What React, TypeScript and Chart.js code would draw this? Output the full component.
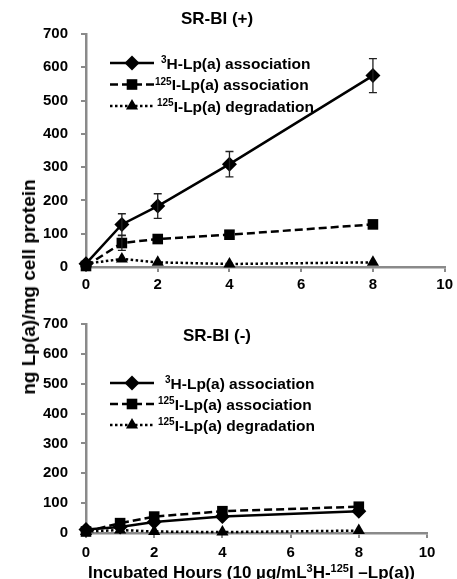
import React, { useEffect, useRef } from 'react';
import { Chart, registerables } from 'chart.js';

Chart.register(...registerables);

// ---------------- data ----------------
const hours = [0, 1, 2, 4, 8];
const xMin = 0;
const xMax = 10;
const xStep = 2;
const yMin = 0;
const yMax = 700;
const yStep = 100;

// SR-BI (+)
const plusH3Assoc = [10, 128, 183, 309, 575];
const plusH3AssocErr = [0, 32, 37, 38, 51];
const plusI125Assoc = [3, 72, 84, 97, 128];
const plusI125AssocErr = [0, 22, 0, 0, 0];
const plusI125Degr = [10, 24, 14, 9, 14];

// SR-BI (-)
const minusH3Assoc = [12, 20, 37, 55, 73];
const minusI125Assoc = [5, 33, 55, 73, 88];
const minusI125Degr = [5, 10, 5, 3, 8];

const titlePlus = 'SR-BI (+)';
const titleMinus = 'SR-BI (-)';
const yAxisTitle = 'ng Lp(a)/mg cell protein';

type Seg = { t: string; sup?: boolean };
const legendH3: Seg[] = [{ t: '3', sup: true }, { t: 'H-Lp(a) association' }];
const legendI125Assoc: Seg[] = [{ t: '125', sup: true }, { t: 'I-Lp(a) association' }];
const legendI125Degr: Seg[] = [{ t: '125', sup: true }, { t: 'I-Lp(a) degradation' }];
const xAxisTitle: Seg[] = [
  { t: 'Incubated Hours (10 µg/mL' },
  { t: '3', sup: true },
  { t: 'H-' },
  { t: '125', sup: true },
  { t: 'I –Lp(a))' },
];

const FONT = '"Liberation Sans", Arial, Helvetica, sans-serif';
const AXIS_GREY = '#8a8a8a';

// ---------------- drawing helpers ----------------
function richWidth(ctx: CanvasRenderingContext2D, segs: Seg[], size: number) {
  let w = 0;
  for (const s of segs) {
    ctx.font = `bold ${s.sup ? Math.round(size * 0.66) : size}px ${FONT}`;
    w += ctx.measureText(s.t).width;
  }
  return w;
}

function drawRich(
  ctx: CanvasRenderingContext2D,
  segs: Seg[],
  x: number,
  yCenter: number,
  size: number,
  align: 'left' | 'center' = 'left'
) {
  const w = richWidth(ctx, segs, size);
  let cx = align === 'center' ? x - w / 2 : x;
  const baseline = yCenter + size * 0.36;
  ctx.save();
  ctx.fillStyle = '#000';
  ctx.textBaseline = 'alphabetic';
  ctx.textAlign = 'left';
  for (const s of segs) {
    const sz = s.sup ? Math.round(size * 0.66) : size;
    ctx.font = `bold ${sz}px ${FONT}`;
    ctx.fillText(s.t, cx, s.sup ? baseline - size * 0.36 : baseline);
    cx += ctx.measureText(s.t).width;
  }
  ctx.restore();
}

function drawMarker(ctx: CanvasRenderingContext2D, style: string, x: number, y: number, r: number) {
  ctx.beginPath();
  if (style === 'rectRot') {
    ctx.moveTo(x, y - r);
    ctx.lineTo(x + r, y);
    ctx.lineTo(x, y + r);
    ctx.lineTo(x - r, y);
  } else if (style === 'rect') {
    const s = Math.SQRT1_2 * r;
    ctx.rect(x - s, y - s, 2 * s, 2 * s);
  } else {
    const TWO_THIRDS_PI = (2 * Math.PI) / 3;
    let rad = 0;
    ctx.moveTo(x + Math.sin(rad) * r, y - Math.cos(rad) * r);
    rad += TWO_THIRDS_PI;
    ctx.lineTo(x + Math.sin(rad) * r, y - Math.cos(rad) * r);
    rad += TWO_THIRDS_PI;
    ctx.lineTo(x + Math.sin(rad) * r, y - Math.cos(rad) * r);
  }
  ctx.closePath();
  ctx.fillStyle = '#000';
  ctx.fill();
}

const annotationsPlugin = {
  id: 'panelAnnotations',
  afterDatasetsDraw(chart: any) {
    const ctx: CanvasRenderingContext2D = chart.ctx;
    const o = chart.options.plugins.panelAnnotations;
    if (!o) return;
    const yScale = chart.scales.y;
    // error bars
    chart.data.datasets.forEach((ds: any, i: number) => {
      if (!ds.errors) return;
      const meta = chart.getDatasetMeta(i);
      meta.data.forEach((pt: any, j: number) => {
        const e = ds.errors[j];
        if (!e) return;
        const v = ds.data[j].y;
        const yTop = yScale.getPixelForValue(v + e);
        const yBot = yScale.getPixelForValue(v - e);
        ctx.save();
        ctx.strokeStyle = '#222';
        ctx.lineWidth = 1.3;
        ctx.beginPath();
        ctx.moveTo(pt.x, yTop);
        ctx.lineTo(pt.x, yBot);
        ctx.moveTo(pt.x - 4, yTop);
        ctx.lineTo(pt.x + 4, yTop);
        ctx.moveTo(pt.x - 4, yBot);
        ctx.lineTo(pt.x + 4, yBot);
        ctx.stroke();
        ctx.restore();
      });
    });
    // title
    drawRich(ctx, [{ t: o.title }], o.titleX, o.titleY, 17, 'center');
    // legend
    chart.data.datasets.forEach((ds: any, i: number) => {
      const ry = o.legendRows[i];
      ctx.save();
      ctx.strokeStyle = '#000';
      ctx.lineWidth = ds.borderWidth;
      ctx.setLineDash(ds.borderDash || []);
      ctx.beginPath();
      ctx.moveTo(o.legendX0, ry);
      ctx.lineTo(o.legendX1, ry);
      ctx.stroke();
      ctx.setLineDash([]);
      drawMarker(ctx, ds.pointStyle, (o.legendX0 + o.legendX1) / 2, ry, ds.pointRadius);
      ctx.restore();
      drawRich(ctx, ds.legendSegs, o.legendTextX[i], ry, 15.5, 'left');
    });
    // x axis title
    if (o.xTitle) {
      const ca = chart.chartArea;
      drawRich(ctx, o.xTitle, (ca.left + ca.right) / 2 - 5, ca.bottom + o.xTitleOffset, 17, 'center');
    }
  },
};

function makeDatasets(h3: number[], h3Err: number[] | null, assoc: number[], assocErr: number[] | null, degr: number[]) {
  const base = {
    borderColor: '#000',
    backgroundColor: '#000',
    pointBackgroundColor: '#000',
    pointBorderColor: '#000',
    pointBorderWidth: 0,
    tension: 0,
    clip: false as const,
    borderCapStyle: 'butt' as const,
  };
  return [
    {
      ...base,
      label: '3H-Lp(a) association',
      data: hours.map((h, i) => ({ x: h, y: h3[i] })),
      borderWidth: 2.5,
      borderDash: [],
      pointStyle: 'rectRot',
      pointRadius: 7.5,
      errors: h3Err,
      legendSegs: legendH3,
    },
    {
      ...base,
      label: '125I-Lp(a) association',
      data: hours.map((h, i) => ({ x: h, y: assoc[i] })),
      borderWidth: 2.5,
      borderDash: [8, 4],
      pointStyle: 'rect',
      pointRadius: 7.5,
      errors: assocErr,
      legendSegs: legendI125Assoc,
    },
    {
      ...base,
      label: '125I-Lp(a) degradation',
      data: hours.map((h, i) => ({ x: h, y: degr[i] })),
      borderWidth: 2.5,
      borderDash: [2.5, 2.5],
      pointStyle: 'triangle',
      pointRadius: 7,
      errors: null,
      legendSegs: legendI125Degr,
    },
  ];
}

function makeConfig(p: {
  datasets: any[];
  padRight: number;
  xHeight: number;
  xTickPad: number;
  ann: any;
}): any {
  const tickFont = { family: FONT, size: 15, weight: 'bold' as const };
  return {
    type: 'line',
    data: { datasets: p.datasets },
    options: {
      responsive: false,
      maintainAspectRatio: false,
      animation: false,
      devicePixelRatio: 1,
      layout: { padding: { top: 34, right: p.padRight, left: 0, bottom: 0 } },
      plugins: {
        legend: { display: false },
        title: { display: false },
        tooltip: { enabled: false },
        panelAnnotations: p.ann,
      },
      scales: {
        x: {
          type: 'linear',
          min: xMin,
          max: xMax,
          ticks: { stepSize: xStep, font: tickFont, color: '#000', padding: p.xTickPad, maxRotation: 0 },
          grid: { display: true, drawOnChartArea: false, drawTicks: true, tickLength: 5, color: AXIS_GREY, lineWidth: 2 },
          border: { display: true, color: AXIS_GREY, width: 2.5 },
          afterFit: (s: any) => {
            s.height = p.xHeight;
          },
        },
        y: {
          type: 'linear',
          min: yMin,
          max: yMax,
          ticks: { stepSize: yStep, font: tickFont, color: '#000', padding: 13 },
          grid: { display: true, drawOnChartArea: false, drawTicks: true, tickLength: 5, color: AXIS_GREY, lineWidth: 2 },
          border: { display: true, color: AXIS_GREY, width: 2.5 },
          afterFit: (s: any) => {
            s.width = 86;
          },
        },
      },
    },
    plugins: [annotationsPlugin],
  };
}

function Panel({ top, height, config }: { top: number; height: number; config: () => any }) {
  const ref = useRef<HTMLCanvasElement | null>(null);
  useEffect(() => {
    if (!ref.current) return;
    const chart = new Chart(ref.current, config());
    return () => chart.destroy();
  }, []);
  return (
    <canvas
      ref={ref}
      width={457}
      height={height}
      style={{ position: 'absolute', left: 0, top, width: 457, height, display: 'block' }}
    />
  );
}

export default function App() {
  const topConfig = () =>
    makeConfig({
      datasets: makeDatasets(plusH3Assoc, plusH3AssocErr, plusI125Assoc, plusI125AssocErr, plusI125Degr),
      padRight: 11,
      xHeight: 23,
      xTickPad: 4,
      ann: {
        title: titlePlus,
        titleX: 217,
        titleY: 18,
        legendRows: [63, 84.5, 106],
        legendX0: 110,
        legendX1: 154,
        legendTextX: [161, 155, 157],
      },
    });
  const bottomConfig = () =>
    makeConfig({
      datasets: makeDatasets(minusH3Assoc, null, minusI125Assoc, null, minusI125Degr),
      padRight: 30,
      xHeight: 46,
      xTickPad: 6,
      ann: {
        title: titleMinus,
        titleX: 217,
        titleY: 45,
        legendRows: [93, 114, 135],
        legendX0: 110,
        legendX1: 154,
        legendTextX: [165, 158, 158],
        xTitle: xAxisTitle,
        xTitleOffset: 39,
      },
    });
  return (
    <div style={{ position: 'absolute', left: 0, top: 0, width: 457, height: 579, background: '#fff', overflow: 'hidden' }}>
      <Panel top={0} height={290} config={topConfig} />
      <Panel top={290} height={289} config={bottomConfig} />
      <div
        style={{
          position: 'absolute',
          left: 29,
          top: 287,
          transform: 'translate(-50%, -50%) rotate(-90deg)',
          whiteSpace: 'nowrap',
          font: `bold 19px ${FONT}`,
          color: '#000',
        }}
      >
        {yAxisTitle}
      </div>
    </div>
  );
}
